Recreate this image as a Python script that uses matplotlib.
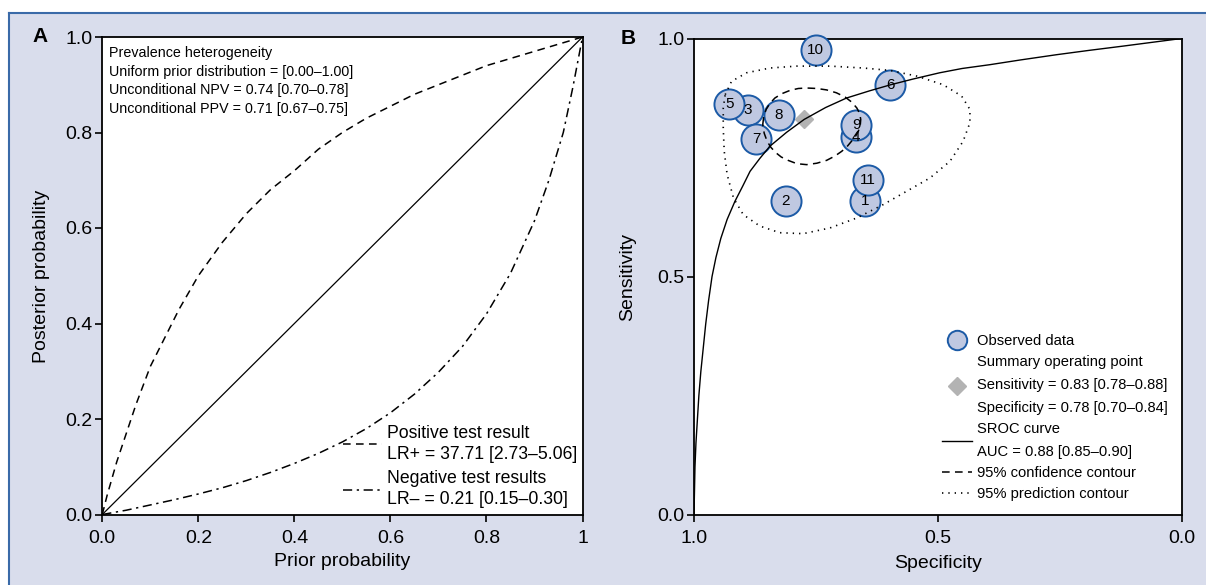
import numpy as np
import matplotlib.pyplot as plt
from matplotlib.lines import Line2D
from matplotlib.patches import Rectangle, Polygon

plt.rcParams['font.family'] = ['Liberation Sans', 'DejaVu Sans']

# panel A: conditional probability curves
prior_pos = [0.0, 0.01, 0.02, 0.03, 0.05, 0.07, 0.1, 0.13, 0.16, 0.2, 0.25, 0.3, 0.35, 0.4,
             0.45, 0.5, 0.55, 0.6, 0.65, 0.7, 0.75, 0.8, 0.85, 0.9, 0.95, 1.0]
post_pos = [0.0, 0.04, 0.075, 0.11, 0.17, 0.23, 0.31, 0.37, 0.43, 0.5, 0.57, 0.63, 0.68, 0.72,
            0.765, 0.8, 0.83, 0.855, 0.88, 0.9, 0.92, 0.94, 0.955, 0.97, 0.985, 1.0]
prior_neg = [0.0, 0.05, 0.1, 0.15, 0.2, 0.25, 0.3, 0.35, 0.4, 0.45, 0.5, 0.55, 0.6, 0.65,
             0.7, 0.75, 0.8, 0.85, 0.9, 0.93, 0.96, 0.98, 1.0]
post_neg = [0.0, 0.009, 0.02, 0.031, 0.043, 0.056, 0.071, 0.088, 0.107, 0.128, 0.152, 0.18,
            0.213, 0.252, 0.298, 0.352, 0.42, 0.505, 0.615, 0.7, 0.8, 0.895, 1.0]

info_lines = ['Prevalence heterogeneity',
              'Uniform prior distribution = [0.00–1.00]',
              'Unconditional NPV = 0.74 [0.70–0.78]',
              'Unconditional PPV = 0.71 [0.67–0.75]']
lr_pos_label = 'Positive test result\nLR+ = 37.71 [2.73–5.06]'
lr_neg_label = 'Negative test results\nLR– = 0.21 [0.15–0.30]'

# panel B: SROC
study = ['1', '2', '3', '4', '5', '6', '7', '8', '9', '10', '11']
spec = [0.650, 0.812, 0.889, 0.667, 0.928, 0.597, 0.872, 0.826, 0.667, 0.750, 0.644]
sens = [0.658, 0.658, 0.850, 0.794, 0.863, 0.903, 0.789, 0.840, 0.819, 0.975, 0.702]
draw_order = [10, 8, 9, 1, 2, 4, 5, 6, 7, 3, 0]

summary_spec = 0.774
summary_sens = 0.830

sroc_spec = [1.0, 0.999, 0.998, 0.996, 0.993, 0.99, 0.986, 0.981, 0.976, 0.97, 0.963, 0.955,
             0.945, 0.932, 0.916, 0.9, 0.885, 0.865, 0.844, 0.81, 0.774, 0.73, 0.687, 0.64,
             0.596, 0.55, 0.496, 0.45, 0.393, 0.33, 0.256, 0.19, 0.12, 0.06, 0.0]
sroc_sens = [0.0, 0.05, 0.1, 0.15, 0.2, 0.25, 0.3, 0.35, 0.4, 0.45, 0.5, 0.54,
             0.58, 0.62, 0.658, 0.69, 0.721, 0.748, 0.774, 0.803, 0.83, 0.855, 0.875, 0.89,
             0.903, 0.915, 0.928, 0.937, 0.945, 0.955, 0.966, 0.975, 0.984, 0.992, 1.0]

conf_spec = [0.859, 0.857, 0.852, 0.844, 0.834, 0.82, 0.803, 0.786, 0.769, 0.748, 0.728,
             0.708, 0.690, 0.676, 0.666, 0.660, 0.658, 0.659, 0.663, 0.669, 0.677, 0.686,
             0.697, 0.711, 0.728, 0.748, 0.769, 0.789, 0.807, 0.821, 0.832, 0.842, 0.850,
             0.856]
conf_sens = [0.819, 0.836, 0.851, 0.864, 0.875, 0.884, 0.891, 0.895, 0.896, 0.895, 0.892,
             0.886, 0.877, 0.866, 0.854, 0.842, 0.830, 0.817, 0.805, 0.794, 0.784, 0.773,
             0.763, 0.753, 0.744, 0.738, 0.735, 0.737, 0.744, 0.751, 0.760, 0.771, 0.784,
             0.801]

pred_spec = [0.936, 0.923, 0.892, 0.844, 0.789, 0.721, 0.653, 0.598, 0.543, 0.489, 0.451,
             0.434, 0.434, 0.448, 0.475, 0.516, 0.564, 0.612, 0.666, 0.721, 0.776, 0.824,
             0.865, 0.899, 0.919, 0.932, 0.938, 0.940, 0.940]
pred_sens = [0.882, 0.910, 0.928, 0.938, 0.942, 0.942, 0.938, 0.933, 0.921, 0.903, 0.879,
             0.851, 0.823, 0.784, 0.742, 0.707, 0.679, 0.651, 0.623, 0.602, 0.590, 0.592,
             0.606, 0.630, 0.665, 0.714, 0.763, 0.812, 0.854]

B_labels = ['Observed data',
            'Summary operating point\nSensitivity = 0.83 [0.78–0.88]\nSpecificity = 0.78 [0.70–0.84]',
            'SROC curve\nAUC = 0.88 [0.85–0.90]',
            '95% confidence contour',
            '95% prediction contour']

W, H = 1206, 585
fig = plt.figure(figsize=(W / 100, H / 100), dpi=100, facecolor='white')

# lavender panel with blue top/left border
fig.patches.append(Rectangle((9 / W, 0), 1, 1 - 13 / H, transform=fig.transFigure,
                             facecolor='#d9ddec', edgecolor='none', zorder=-10))
fig.add_artist(Line2D([9 / W, 1], [1 - 13 / H, 1 - 13 / H], transform=fig.transFigure,
                      color='#3a6aa8', lw=1.5))
fig.add_artist(Line2D([9 / W, 9 / W], [0, 1 - 13 / H], transform=fig.transFigure,
                      color='#3a6aa8', lw=1.5))

axA = fig.add_axes([102.3 / W, 1 - 514.5 / H, 480.2 / W, 477.5 / H])
axB = fig.add_axes([694 / W, 1 - 514.5 / H, 487.5 / W, 476 / H])

for ax in (axA, axB):
    for s in ax.spines.values():
        s.set_linewidth(1.3)
    ax.tick_params(direction='out', length=5, width=1.2, labelsize=14, pad=2)
    ax.tick_params(axis='x', pad=6)

# ---- A
axA.plot([0, 1], [0, 1], color='black', lw=0.9)
lp, = axA.plot(prior_pos, post_pos, color='black', lw=1.1, dashes=(5, 3.5))
ln, = axA.plot(prior_neg, post_neg, color='black', lw=1.1, dashes=(6, 3, 1.5, 3))
axA.set_xlim(0, 1)
axA.set_ylim(0, 1)
axA.set_xticks([0, 0.2, 0.4, 0.6, 0.8, 1.0])
axA.set_xticklabels(['0.0', '0.2', '0.4', '0.6', '0.8', '1'])
axA.set_yticks([0, 0.2, 0.4, 0.6, 0.8, 1.0])
axA.set_yticklabels(['0.0', '0.2', '0.4', '0.6', '0.8', '1.0'])
axA.text(0.014, 0.981, '\n'.join(info_lines), transform=axA.transAxes, va='top', ha='left',
         fontsize=10.3, linespacing=1.42)
legA = axA.legend([lp, ln], [lr_pos_label, lr_neg_label], loc='upper left',
                  bbox_to_anchor=(0.5015, 0.188), frameon=False, fontsize=12.7,
                  handlelength=2.2, handletextpad=0.27, borderpad=0, borderaxespad=0,
                  labelspacing=0.39)
for t in legA.get_texts():
    t.set_linespacing(1.34)

# ---- B
for i in draw_order:
    axB.scatter(spec[i], sens[i], s=470, facecolor='#bfc8e1', edgecolor='#1b5aa6',
                linewidth=1.4, zorder=3 + i * 0.01, clip_on=False)
for i in range(len(study)):
    axB.text(spec[i], sens[i], study[i], ha='center', va='center', fontsize=11, zorder=4)
axB.plot(summary_spec, summary_sens, marker='D', markersize=9, color='#b3b3b3',
         linestyle='none', zorder=4)
axB.plot(sroc_spec, sroc_sens, color='black', lw=1.0, zorder=5)
axB.add_patch(Polygon(np.column_stack([conf_spec, conf_sens]), closed=True, fill=False,
                      edgecolor='black', lw=1.1, linestyle=(0, (5, 3.5)), zorder=5))
axB.add_patch(Polygon(np.column_stack([pred_spec, pred_sens]), closed=True, fill=False,
                      edgecolor='black', lw=1.2, linestyle=(0, (0.8, 3)), zorder=5))
axB.set_xlim(1, 0)
axB.set_ylim(0, 1)
axB.set_xticks([1.0, 0.5, 0.0])
axB.set_xticklabels(['1.0', '0.5', '0.0'])
axB.set_yticks([0.0, 0.5, 1.0])
axB.set_yticklabels(['0.0', '0.5', '1.0'])

hB = [Line2D([], [], marker='o', markersize=14, markerfacecolor='#bfc8e1',
             markeredgecolor='#1b5aa6', markeredgewidth=1.4, linestyle='none'),
      Line2D([], [], marker='D', markersize=9, color='#b3b3b3', linestyle='none'),
      Line2D([], [], color='black', lw=1.0),
      Line2D([], [], color='black', lw=1.1, dashes=(5, 3.5)),
      Line2D([], [], color='black', lw=1.2, dashes=(0.8, 3))]
legB = axB.legend(hB, B_labels, loc='upper left', bbox_to_anchor=(0.508, 0.3786),
                  frameon=False, fontsize=10.6, handlelength=2.03, handletextpad=0.38,
                  borderpad=0, borderaxespad=0, labelspacing=0.48)
for t in legB.get_texts():
    t.set_linespacing(1.8)

# labels
fig.text(40 / W, 1 - 37 / H, 'A', fontsize=15, fontweight='bold', ha='center', va='center')
fig.text(628 / W, 1 - 38 / H, 'B', fontsize=15, fontweight='bold', ha='center', va='center')
fig.text(342 / W, 1 - 562 / H, 'Prior probability', fontsize=14, ha='center', va='center')
fig.text(42 / W, 1 - 276 / H, 'Posterior probability', fontsize=14, ha='center', va='center',
         rotation=90)
fig.text(938 / W, 1 - 563 / H, 'Specificity', fontsize=14, ha='center', va='center')
fig.text(628 / W, 1 - 277 / H, 'Sensitivity', fontsize=14, ha='center', va='center',
         rotation=90)

fig.savefig('out.png', dpi=100, facecolor=fig.get_facecolor())
